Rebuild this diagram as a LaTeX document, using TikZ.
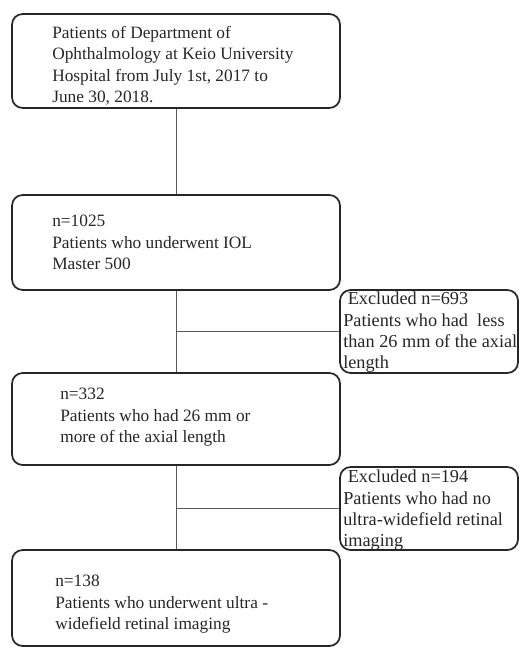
\documentclass[tikz,border=0pt]{standalone}
\usepackage{fontspec}
\setmainfont{Liberation Serif}
\begin{document}
\begin{tikzpicture}[x=0.75pt,y=-0.75pt,
  box/.style={draw=black!85,line width=1.3pt,rounded corners=8pt,inner sep=0pt},
  txt/.style={anchor=north west,inner sep=0pt,align=left,font=\fontsize{13}{16.1}\selectfont,text=black!85},
  xtxt/.style={txt,font=\fontsize{13.7}{15.8}\selectfont},
  conn/.style={draw=black!65,line width=0.7pt}]
\useasboundingbox (0,0) rectangle (520,649);
% main boxes
\node[box,minimum width=328*0.75pt,minimum height=94*0.75pt] (b1) at (176,61) {};
\node[box,minimum width=328*0.75pt,minimum height=95*0.75pt] (b2) at (176,242.5) {};
\node[box,minimum width=328*0.75pt,minimum height=92*0.75pt] (b3) at (176,419) {};
\node[box,minimum width=328*0.75pt,minimum height=96*0.75pt] (b4) at (176,598) {};
% exclusion boxes
\node[box,minimum width=178*0.75pt,minimum height=83*0.75pt] (e1) at (429,331.5) {};
\node[box,minimum width=178*0.75pt,minimum height=83*0.75pt] (e2) at (429,508.5) {};
% texts
\node[txt] (t1) at (52,26) {Patients of Department of\\Ophthalmology at Keio University\\Hospital from July 1st, 2017 to\\June 30, 2018.};
\node[txt] (t2) at (52,215) {n=1025\\Patients who underwent IOL\\Master 500};
\node[txt] (t3) at (60,388) {n=332\\Patients who had 26 mm or\\more of the axial length};
\node[txt] (t4) at (55,575) {n=138\\Patients who underwent ultra -\\widefield retinal imaging};
\node[xtxt] (t5) at (343,292) {\ Excluded n=693\\Patients who had\ \ less\\than 26 mm of the axial\\length};
\node[xtxt] (t6) at (343,470) {\ Excluded n=194\\Patients who had no\\ultra-widefield retinal\\imaging};
% connectors
\draw[conn] (b1.south) -- (b2.north);
\draw[conn] (b2.south) -- (b3.north);
\draw[conn] (b3.south) -- (b4.north);
\coordinate (j1) at (b2.south |- e1.west);
\coordinate (j2) at (b3.south |- e2.west);
\draw[conn] (j1) -- (e1.west);
\draw[conn] (j2) -- (e2.west);
\end{tikzpicture}
\end{document}
